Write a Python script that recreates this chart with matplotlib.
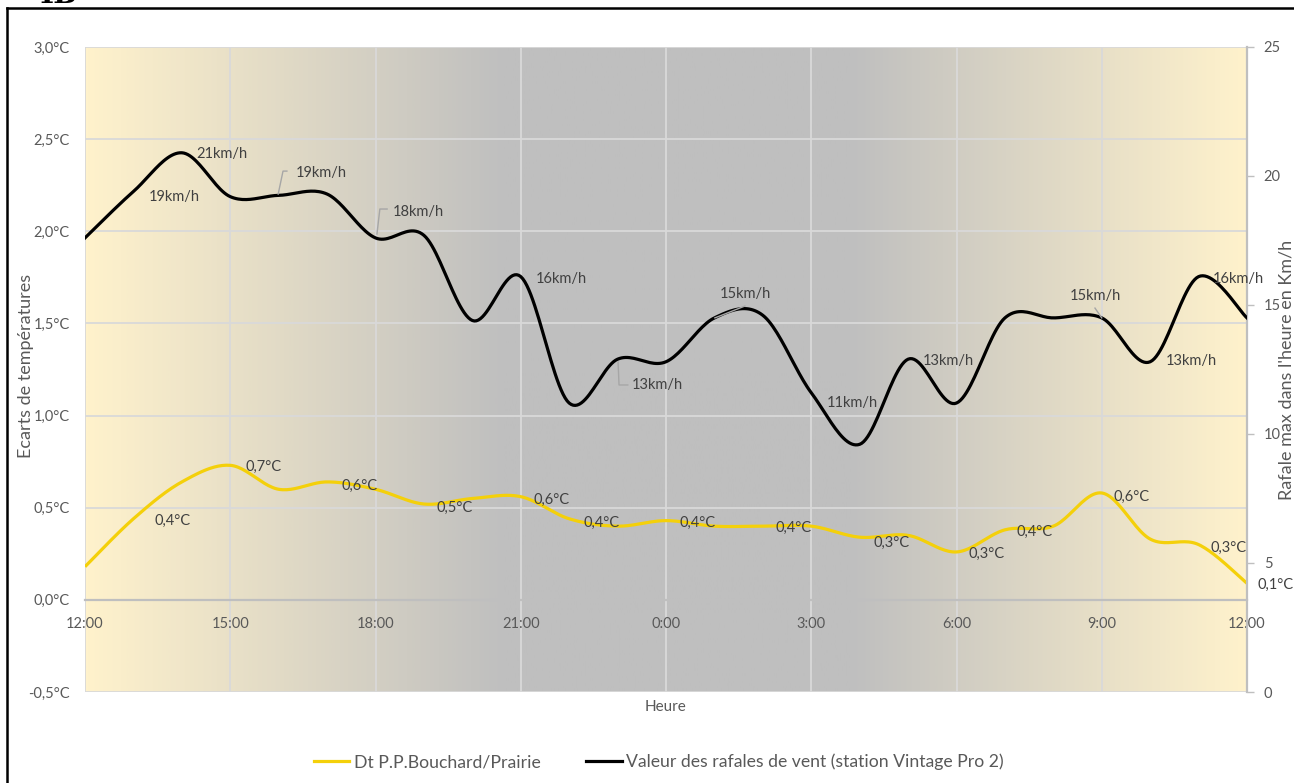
import numpy as np
import matplotlib
matplotlib.use("Agg")
import matplotlib.pyplot as plt
from matplotlib.colors import LinearSegmentedColormap
from matplotlib.lines import Line2D

plt.rcParams['font.family'] = ['Lato', 'DejaVu Sans']

# ---------------- data ----------------
hour_labels = ["12:00", "15:00", "18:00", "21:00", "0:00", "3:00", "6:00", "9:00", "12:00"]
hours = list(range(25))  # hourly points from 12:00 to 12:00 next day
temp_diff = [0.18, 0.44, 0.64, 0.73, 0.60, 0.64, 0.60, 0.52, 0.55, 0.56, 0.44, 0.40,
             0.43, 0.40, 0.40, 0.40, 0.34, 0.35, 0.26, 0.38, 0.40, 0.58, 0.33, 0.30, 0.09]
wind_gust = [17.6, 19.4, 20.9, 19.2, 19.25, 19.3, 17.6, 17.7, 14.4, 16.1, 11.2, 12.9,
             12.8, 14.5, 14.6, 11.6, 9.6, 12.9, 11.2, 14.5, 14.5, 14.5, 12.8, 16.1, 14.5]

temp_label_text = ["0,4°C", "0,7°C", "0,6°C", "0,5°C", "0,6°C", "0,4°C", "0,4°C",
                   "0,4°C", "0,3°C", "0,3°C", "0,4°C", "0,6°C", "0,3°C", "0,1°C"]
temp_label_x = [1.80, 3.68, 5.68, 7.64, 9.64, 10.66, 12.66, 14.64, 16.65, 18.63, 19.62, 21.62, 23.61, 24.58]
temp_label_y = [0.43, 0.72, 0.62, 0.50, 0.54, 0.42, 0.42, 0.39, 0.31, 0.25, 0.37, 0.56, 0.28, 0.08]

wind_label_text = ["21km/h", "19km/h", "19km/h", "18km/h", "16km/h", "13km/h", "15km/h",
                   "11km/h", "13km/h", "15km/h", "13km/h", "16km/h"]
wind_label_x = [2.83, 1.84, 4.87, 6.88, 9.83, 11.83, 13.63, 15.84, 17.84, 20.86, 22.84, 23.83]
wind_label_y = [20.85, 19.18, 20.12, 18.6, 16.0, 11.9, 15.42, 11.2, 12.83, 15.35, 12.83, 16.0]

# leader lines (hours, km/h)
leaders = [
    ([4.17, 4.09, 3.99], [20.19, 20.19, 19.3]),
    ([6.24, 6.09, 6.03], [18.72, 18.72, 17.75]),
    ([11.01, 11.03, 11.21], [12.79, 11.9, 11.9]),
    ([13.63, 13.01], [14.96, 14.5]),
    ([20.86, 21.0], [14.88, 14.5]),
]


def catmull_rom(x, y, n=24):
    P = np.column_stack([x, y]).astype(float)
    P = np.vstack([P[0], P, P[-1]])
    t = np.linspace(0, 1, n, endpoint=False)[:, None]
    segs = []
    for i in range(1, len(P) - 2):
        p0, p1, p2, p3 = P[i - 1], P[i], P[i + 1], P[i + 2]
        seg = 0.5 * ((2 * p1) + (-p0 + p2) * t + (2 * p0 - 5 * p1 + 4 * p2 - p3) * t ** 2
                     + (-p0 + 3 * p1 - 3 * p2 + p3) * t ** 3)
        segs.append(seg)
    segs.append(P[-2][None, :])
    S = np.vstack(segs)
    return S[:, 0], S[:, 1]


W, H = 1294, 783
fig = plt.figure(figsize=(W / 100, H / 100), dpi=100)
L, R, T, B = 85, 1247, 47, 692
ax = fig.add_axes([L / W, 1 - B / H, (R - L) / W, (B - T) / H])
ax.set_xlim(0, 24)
ax.set_ylim(-0.5, 3.0)

# background gradient
cmap = LinearSegmentedColormap.from_list(
    "bg", [(0, "#FFF2CC"), (0.36, "#BFBFBF"), (0.66, "#BFBFBF"), (1.0, "#FFF2CC")])
grad = np.linspace(0, 1, 512)[None, :]
ax.imshow(grad, cmap=cmap, aspect="auto", extent=[0, 24, -0.5, 3.0], zorder=0)

# grid
for gx in range(0, 25, 3):
    ax.axvline(gx, color="#D9D9D9", lw=1.3, zorder=1)
for gy in np.arange(-0.5, 3.01, 0.5):
    ax.axhline(gy, color="#D9D9D9", lw=1.3, zorder=1)

ax.set_xticks(range(0, 25, 3))
ax.set_xticklabels(hour_labels)
ax.set_yticks(np.arange(-0.5, 3.01, 0.5))
ax.set_yticklabels([f"{v:.1f}°C".replace(".", ",") for v in np.arange(-0.5, 3.01, 0.5)])
ax.tick_params(axis="both", length=0, labelsize=10.5, colors="#595959")
ax.tick_params(axis="x", pad=12)
ax.tick_params(axis="y", pad=11)
for s in ["top", "left", "right"]:
    ax.spines[s].set_visible(False)
ax.spines["bottom"].set_position(("data", 0))
ax.spines["bottom"].set_color("#BFBFBF")
ax.spines["bottom"].set_linewidth(1.6)
ax.set_ylabel("Ecarts de températures", color="#595959", fontsize=13)
ax.yaxis.set_label_coords(-0.044, 0.505)

# temperature series
tx, ty = catmull_rom(hours, temp_diff)
ax.plot(tx, ty, color="#F4D00A", lw=2.3, zorder=3, solid_capstyle="butt")

for t, xx, yy in zip(temp_label_text, temp_label_x, temp_label_y):
    ax.text(xx, yy, t, ha="center", va="center", fontsize=10.5, color="#404040",
            zorder=5, clip_on=False)

# wind on right axis
ax2 = ax.twinx()
ax2.set_ylim(0, 25)
ax2.set_yticks(range(0, 26, 5))
ax2.tick_params(axis="y", length=5, width=1, color="#BFBFBF", labelsize=10.5,
                colors="#595959", pad=7)
ax2.tick_params(axis="y", color="#BFBFBF")
for s in ["top", "left", "bottom"]:
    ax2.spines[s].set_visible(False)
ax2.spines["right"].set_color("#BFBFBF")
ax2.spines["right"].set_linewidth(1.6)
ax2.set_ylabel("Rafale max dans l'heure en Km/h", color="#595959", fontsize=13)
ax2.yaxis.set_label_coords(1.027, 0.5)

wx, wy = catmull_rom(hours, wind_gust)
ax2.plot(wx, wy, color="black", lw=2.3, zorder=3)

for t, xx, yy in zip(wind_label_text, wind_label_x, wind_label_y):
    ax2.text(xx, yy, t, ha="center", va="center", fontsize=10.5, color="#404040",
             zorder=5, clip_on=False)
for lx, ly in leaders:
    ax2.plot(lx, ly, color="#A6A6A6", lw=1.0, zorder=4)

fig.text(666 / W, 1 - 707 / H, "Heure", ha="center", va="center",
         fontsize=11, color="#595959")

handles = [Line2D([], [], color="#F4D00A", lw=2.3),
           Line2D([], [], color="black", lw=2.3)]
leg = fig.legend(handles, ["Dt P.P.Bouchard/Prairie",
                           "Valeur des rafales de vent (station Vintage Pro 2)"],
                 loc="center", bbox_to_anchor=(659 / W, 1 - 762 / H), ncol=2,
                 frameon=False, fontsize=12.7, handlelength=2.0, handletextpad=0.25,
                 columnspacing=2.6)
for txt in leg.get_texts():
    txt.set_color("#595959")

# outer frame
fig.add_artist(Line2D([7 / W, 7 / W], [0, 1 - 8 / H], color="black", lw=1.8,
                      transform=fig.transFigure))
fig.add_artist(Line2D([7 / W, 1], [1 - 8 / H, 1 - 8 / H], color="black", lw=1.8,
                      transform=fig.transFigure))
fig.text(35 / W, 1 - 3 / H, "4B", ha="left", va="baseline", fontsize=20,
         fontweight="bold", family="DejaVu Serif", color="black")

fig.savefig("out.png", dpi=100)
